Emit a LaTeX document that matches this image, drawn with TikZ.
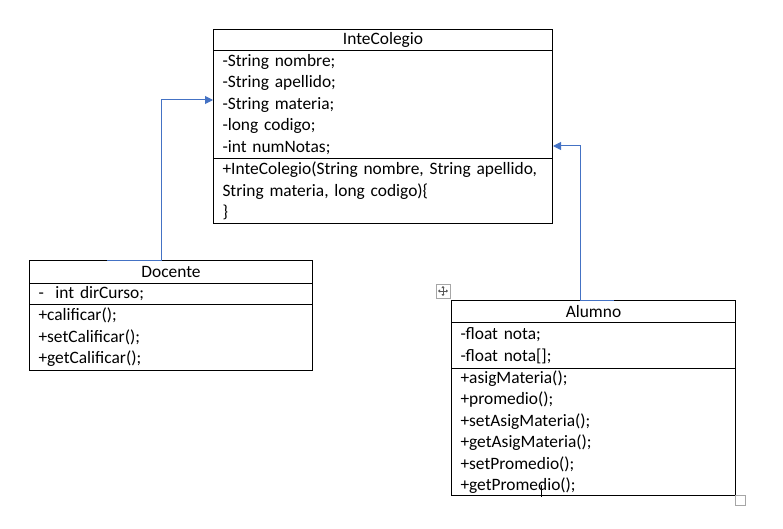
\documentclass[tikz,border=0pt]{standalone}
\usepackage{fontspec}
\setmainfont{Carlito}[WordSpace={0.9,0,0}]
\usetikzlibrary{arrows.meta}
\definecolor{linkblue}{HTML}{4472C4}
\definecolor{handlegray}{HTML}{A6A6A6}
\hyphenpenalty=10000
\exhyphenpenalty=10000
\begin{document}
\begin{tikzpicture}[x=1pt,y=-1pt,
  every node/.style={font=\fontsize{17.4}{21.5}\selectfont},
  part/.style={draw=black, line width=1pt, anchor=north west, inner ysep=0pt,
    inner xsep=9pt, align=left},
  head/.style={draw=black, line width=1pt, anchor=north west, inner sep=0pt,
    align=center},
  link/.style={draw=linkblue, line width=1pt},
  linkarrow/.style={link, -{Triangle[length=8pt,width=8pt]}}]
\useasboundingbox (0,0) rectangle (783,529);

% class InteColegio
\node[head, minimum width=339, minimum height=21] (ititle) at (213,29) {InteColegio};
\node[part, minimum height=108, text width=321] (iattr) at (213,50)
  {-String nombre;\\-String apellido;\\-String materia;\\-long codigo;\\-int numNotas;};
\node[part, minimum height=65, text width=321] (imeth) at (213,158)
  {+InteColegio(String nombre, String apellido,\\String materia, long codigo)\{\\\}};

% class Docente
\node[head, minimum width=283, minimum height=23] (dtitle) at (29,260) {Docente};
\node[part, minimum height=21, text width=265] (dattr) at (29,283)
  {-\ \ int dirCurso;};
\node[part, minimum height=66, text width=265] (dmeth) at (29,304)
  {+calificar();\\+setCalificar();\\+getCalificar();};

% class Alumno
\node[head, minimum width=284, minimum height=22] (atitle) at (451,300) {Alumno};
\node[part, minimum height=46, text width=266] (aattr) at (451,322)
  {-float nota;\\-float nota[];};
\node[part, minimum height=127, text width=266] (ameth) at (451,368)
  {+asigMateria();\\+promedio();\\+setAsigMateria();\\+getAsigMateria();\\+setPromedio();\\+getPromedio();};

% inheritance connectors
\coordinate (dstart) at (107,260);
\coordinate (dbend) at (161,260);
\coordinate (astart) at (614,300);
\coordinate (abend) at (580,300);
\draw[linkarrow] (dstart) -- (dbend) |- (iattr.west |- 0,100);
\draw[linkarrow] (astart) -- (abend) |- (iattr.east |- 0,146);

% editor handles and text caret
\node[draw=handlegray, line width=0.8pt, minimum size=14, inner sep=0pt] (move) at (443,291) {};
\begin{scope}[draw=black!65, line width=0.8pt, {Triangle[length=2pt,width=3pt]}-{Triangle[length=2pt,width=3pt]}]
  \draw (move.center) ++(-5,0) -- ++(10,0);
  \draw (move.center) ++(0,-5) -- ++(0,10);
\end{scope}
\node[draw=handlegray, line width=0.8pt, minimum size=10, inner sep=0pt] (resize) at (740,500) {};
\draw[black, line width=1pt] (541,485) -- (541,497);
\end{tikzpicture}
\end{document}
